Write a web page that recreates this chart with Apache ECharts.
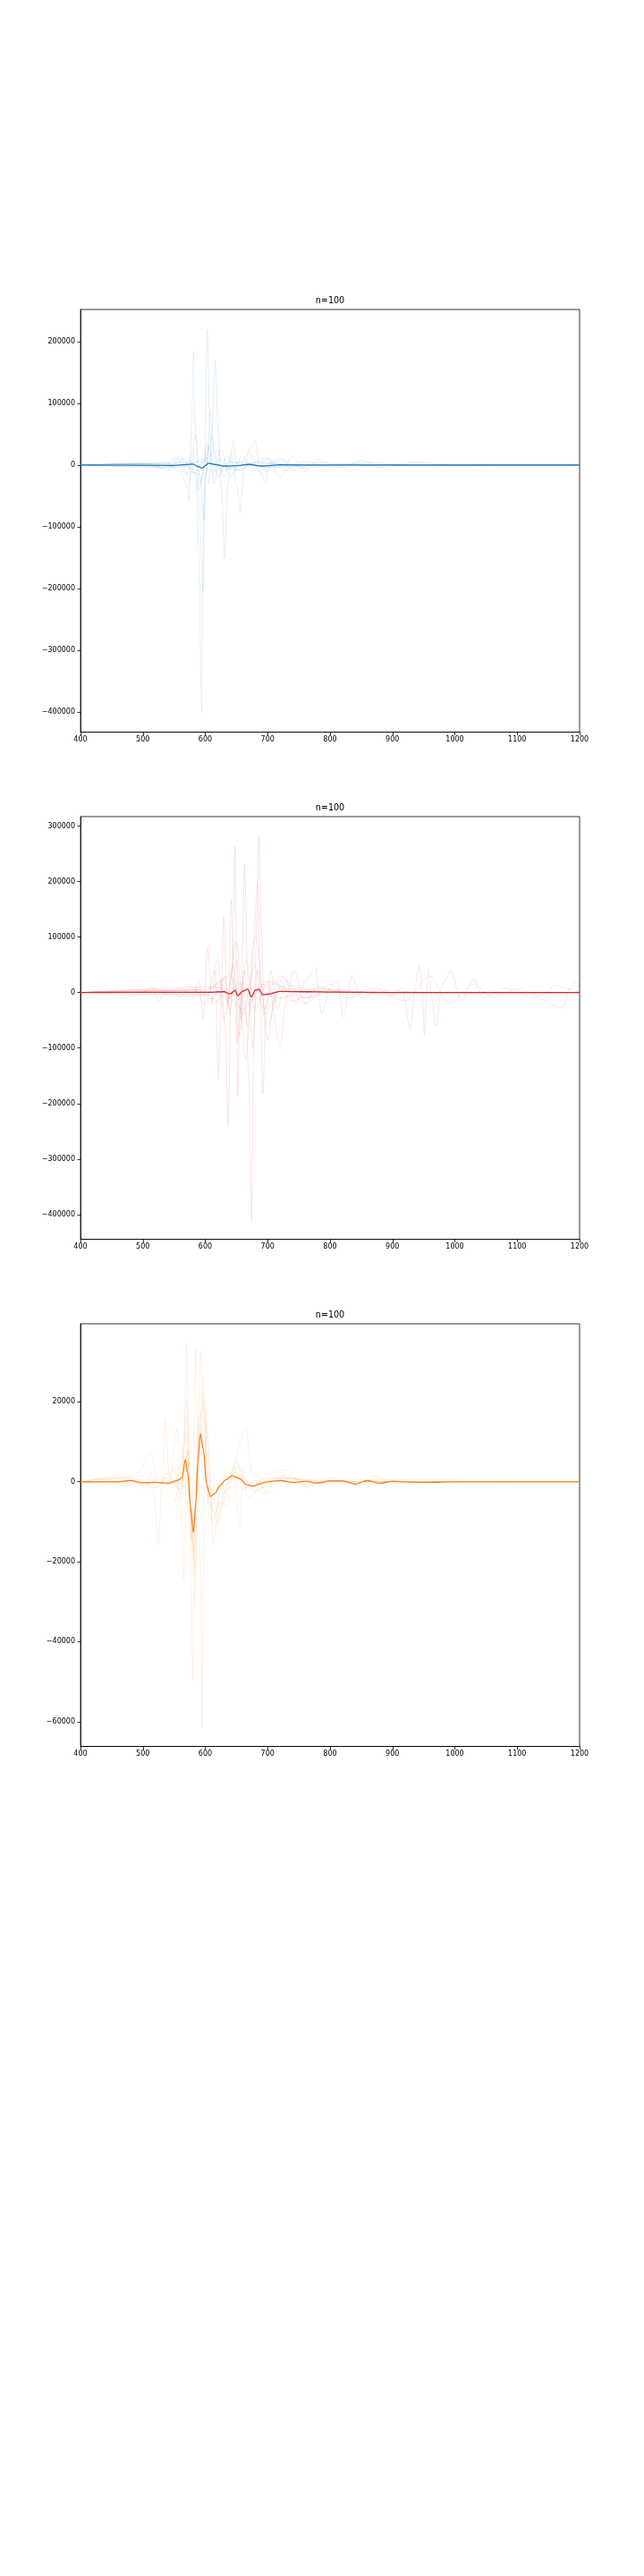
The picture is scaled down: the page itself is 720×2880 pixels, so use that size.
<!DOCTYPE html>
<html>
<head>
<meta charset="utf-8">
<script src="https://cdn.jsdelivr.net/npm/echarts@6/dist/echarts.min.js"></script>
<style>
html,body{margin:0;padding:0;background:#fff;}
#chart{width:720px;height:2880px;}
</style>
</head>
<body>
<div id="chart"></div>
<script>
var titleText = 'n=100';
var xTicks = [400, 500, 600, 700, 800, 900, 1000, 1100, 1200];
var blueTicks = [200000, 100000, 0, -100000, -200000, -300000, -400000];
var redTicks = [300000, 200000, 100000, 0, -100000, -200000, -300000, -400000];
var orangeTicks = [20000, 0, -20000, -40000, -60000];

// panel 1 (blue)
var blueMean = [[400,0],[550,-500],[580,1500],[590,-3000],[595,-5000],[600,-1000],[605,3000],[615,1000],[630,-1500],[650,-1000],[670,1000],[690,-1500],[720,500],[800,0],[1200,0]];
var blue1 = [[400,0],[520,2000],[560,-5000],[575,8000],[585,-20000],[590,-150000],[594,-400000],[598,-60000],[603,220000],[608,40000],[614,-30000],[622,10000],[640,-5000],[680,3000],[760,0],[1200,0]];
var blue2 = [[400,0],[540,3000],[560,-10000],[570,-30000],[574,-58000],[578,60000],[581,183000],[585,40000],[590,-60000],[596,-203000],[600,-20000],[606,30000],[615,-10000],[640,5000],[700,-3000],[800,0],[1200,0]];
var blue3 = [[400,0],[560,2000],[590,-10000],[600,20000],[606,-30000],[611,60000],[616,169000],[621,50000],[626,-40000],[631,-152000],[636,-30000],[645,39000],[652,-10000],[680,5000],[760,0],[1200,0]];
var blue4 = [[400,0],[560,-3000],[600,10000],[620,25000],[630,-20000],[642,20000],[650,-30000],[656,-76000],[662,-10000],[670,25000],[680,39000],[688,-10000],[695,-27000],[705,5000],[720,12000],[740,-8000],[780,4000],[850,0],[1200,0]];
var blue5 = [[400,0],[500,2000],[540,-8000],[560,15000],[575,-25000],[585,50000],[592,-30000],[600,10000],[610,45000],[620,-20000],[635,15000],[650,-10000],[670,20000],[690,-15000],[720,8000],[760,-5000],[820,3000],[900,0],[1200,0]];
var blue6 = [[400,0],[510,3000],[530,-5000],[555,12000],[570,-15000],[580,25000],[590,-40000],[597,-10000],[603,35000],[612,-15000],[625,25000],[640,-20000],[660,15000],[675,-10000],[700,10000],[730,-8000],[760,6000],[800,-3000],[850,4000],[950,0],[1200,0]];
var blue7 = [[400,0],[540,-4000],[565,10000],[580,-12000],[592,-15000],[598,-90000],[602,-10000],[608,90000],[614,20000],[625,-10000],[660,6000],[700,-4000],[800,0],[1200,0]];
var blue8 = [[400,0],[600,5000],[650,-8000],[700,12000],[720,-20000],[740,15000],[760,-10000],[780,8000],[820,-5000],[850,8000],[880,-4000],[940,5000],[1000,-2000],[1100,2000],[1200,0]];

// panel 2 (red)
var redMean = [[400,0],[600,500],[630,1500],[640,-2500],[648,4000],[652,-6000],[660,2500],[668,6000],[674,-8000],[680,4000],[686,6000],[692,-4000],[700,-3000],[720,2000],[760,1500],[800,1000],[900,0],[1200,0]];
var red1 = [[400,0],[600,3000],[640,-10000],[655,20000],[665,-40000],[670,-150000],[674,-411000],[678,-80000],[682,120000],[686,282000],[690,100000],[695,-40000],[705,-20000],[720,10000],[760,0],[1200,0]];
var red2 = [[400,0],[590,5000],[620,-15000],[632,30000],[640,-40000],[644,60000],[647.5,263000],[650,50000],[652,-188000],[656,-30000],[662,40000],[670,-20000],[690,15000],[720,-10000],[760,5000],[820,0],[1200,0]];
var red3 = [[400,0],[600,-5000],[625,20000],[632,-60000],[636.5,-242000],[641,-20000],[650,60000],[657,-50000],[663,231000],[668,30000],[676,-100000],[684,40000],[695,-30000],[710,20000],[740,-15000],[780,8000],[830,0],[1200,0]];
var red4 = [[400,0],[580,4000],[610,-12000],[630,25000],[637,-30000],[641.7,166600],[646,10000],[651,-90000],[660,20000],[668,-60000],[676,80000],[684,199000],[688,20000],[692,-183000],[698,-20000],[705,40000],[715,-30000],[730,20000],[760,-10000],[800,5000],[850,0],[1200,0]];
var red5 = [[400,0],[520,6000],[540,-4000],[560,8000],[580,-10000],[590,20000],[596.7,-48000],[604,83000],[611,-20000],[616,40000],[621,-156000],[626,10000],[629.6,137000],[635,-20000],[645,50000],[655,-80000],[665,60000],[680,-30000],[700,20000],[720,-97000],[730,-10000],[742,40000],[760,-20000],[780,10000],[820,0],[1200,0]];
var red6 = [[400,0],[600,5000],[640,30000],[660,-40000],[680,50000],[690,-20000],[700,-86000],[710,-20000],[725,30000],[745,-20000],[760,20000],[776,45000],[787,-38000],[800,10000],[812,20000],[821,-44000],[835,29000],[850,-10000],[880,5000],[950,0],[1200,0]];
var red7 = [[400,0],[620,10000],[660,-30000],[700,20000],[760,-10000],[820,5000],[900,-5000],[915,8000],[929,-65000],[936,10000],[943,49000],[948,0],[951,-76000],[955,0],[957,42000],[963,-10000],[969,-60000],[980,15000],[994,39000],[1010,-15000],[1031,24000],[1045,-10000],[1080,8000],[1120,-5000],[1173,-27000],[1185,5000],[1193,21000],[1200,10000]];
var red8 = [[400,0],[500,0],[515,10000],[525,-15000],[540,5000],[560,-8000],[580,12000],[600,-20000],[620,60000],[630,-50000],[650,90000],[665,-120000],[680,100000],[700,-60000],[720,30000],[760,-20000],[800,15000],[830,-10000],[870,8000],[920,-15000],[960,30000],[990,-20000],[1030,15000],[1060,-8000],[1100,6000],[1140,-6000],[1160,12000],[1200,0]];

// panel 3 (orange)
var orangeMean = [[400,0],[460,0],[480,300],[500,-300],[520,-200],[540,-400],[555,300],[563,1000],[568,5600],[572,2000],[576,-6000],[581,-12700],[585,-5000],[588,5000],[592,12000],[597,8000],[602,-500],[608,-3700],[615,-3000],[623,-1100],[633,500],[643,1500],[655,800],[667,-800],[677,-1100],[690,-400],[700,0],[720,300],[740,-200],[760,100],[780,-300],[800,200],[820,200],[840,-600],[860,300],[880,-400],[900,100],[950,-200],[1000,0],[1200,0]];
var orange1 = [[400,0],[480,1000],[520,-1500],[550,3000],[562,-4000],[566,10000],[570,34700],[574,5000],[577,-20000],[580,-49600],[584,-8000],[590,15000],[597,20000],[605,-5000],[615,-8000],[630,3000],[660,-2000],[700,1000],[800,0],[1200,0]];
var orange2 = [[400,0],[500,-1000],[540,2000],[565,-3000],[572,8000],[578,-15000],[584.6,33200],[589,0],[592,-20000],[595,-61500],[598,-5000],[602,15000],[610,-4000],[625,-6000],[650,3000],[680,-2000],[720,1000],[800,0],[1200,0]];
var orange3 = [[400,0],[500,1500],[530,-2000],[555,4000],[562,-10000],[566,-24600],[570,8000],[576,-4000],[582,-20000],[588,10000],[593,32100],[598,15000],[606,-8000],[616,-12000],[630,-3000],[650,4000],[680,-2500],[720,1500],[780,-500],[850,500],[1200,0]];
var orange4 = [[400,0],[480,1000],[505,-2000],[515,3000],[525,-15700],[530,-2000],[536,15800],[542,2000],[552,-5000],[560,4000],[570,12000],[580,-18000],[592,14000],[605,-4000],[620,-10000],[640,2000],[665,13800],[675,2000],[690,-3000],[720,1000],[800,0],[1200,0]];
var orange5 = [[400,0],[490,2000],[513,7400],[525,-1000],[545,3000],[554.5,13400],[562,-2000],[570,16000],[578,-10000],[584,-22000],[590,5000],[598,22000],[606,5000],[612.6,-16000],[622,-5000],[635,-6000],[646,4000],[654.8,-11200],[662,4000],[680,2000],[700,-3000],[730,2000],[760,-1000],[800,0],[1200,0]];
var orange6 = [[400,0],[500,-500],[540,1000],[560,-2000],[570,20000],[576,-5000],[583,-30000],[590,8000],[596,26000],[603,5000],[612,-10000],[625,-4000],[650,5000],[670,-4000],[700,2000],[730,3000],[760,-1500],[800,1000],[850,-1000],[870,1500],[900,0],[1200,0]];

var panels = [
  {color: '#1f77b4', mean: blueMean, runs: [blue1, blue2, blue3, blue4, blue5, blue6, blue7, blue8], min: -432500, max: 252000, ticks: blueTicks},
  {color: '#d62728', mean: redMean, runs: [red1, red2, red3, red4, red5, red6, red7, red8], min: -444500, max: 316900, ticks: redTicks},
  {color: '#ff7f0e', mean: orangeMean, runs: [orange1, orange2, orange3, orange4, orange5, orange6], min: -66200, max: 39500, ticks: orangeTicks}
];

var gridTops = [346, 913, 1480];
var font = 'DejaVu Sans';

// plain numbers, real minus sign, no thousands separator
function fmt(v) {
  return v < 0 ? '\u2212' + (-v) : '' + v;
}

var option = {
  animation: false,
  backgroundColor: '#fff',
  title: [],
  grid: [],
  xAxis: [],
  yAxis: [],
  series: []
};

for (var i = 0; i < panels.length; i++) {
  var p = panels[i];
  option.title.push({
    text: titleText,
    left: 369, top: gridTops[i] - 15, textAlign: 'center', padding: 0,
    textStyle: {fontFamily: font, fontSize: 9.6, fontWeight: 'normal', color: '#000'}
  });
  option.grid.push({
    left: 90, top: gridTops[i], width: 558, height: 472.5,
    show: true, borderColor: '#000', borderWidth: 0.8, backgroundColor: 'transparent'
  });
  option.xAxis.push({
    type: 'value', gridIndex: i, min: 400, max: 1200,
    splitLine: {show: false},
    axisLine: {show: true, onZero: false, lineStyle: {color: '#000', width: 0.8}},
    axisTick: {show: true, length: 3.5, customValues: xTicks, lineStyle: {color: '#000', width: 0.8}},
    axisLabel: {fontFamily: font, fontSize: 8, color: '#000', margin: 4, customValues: xTicks, formatter: fmt}
  });
  option.yAxis.push({
    type: 'value', gridIndex: i, min: p.min, max: p.max,
    splitLine: {show: false},
    axisLine: {show: true, onZero: false, lineStyle: {color: '#000', width: 0.8}},
    axisTick: {show: true, length: 3.5, customValues: p.ticks, lineStyle: {color: '#000', width: 0.8}},
    axisLabel: {fontFamily: font, fontSize: 8, color: '#000', margin: 6, customValues: p.ticks, formatter: fmt}
  });
  for (var j = 0; j < p.runs.length; j++) {
    option.series.push({
      type: 'line', xAxisIndex: i, yAxisIndex: i, data: p.runs[j],
      showSymbol: false, silent: true, smooth: 0.3, smoothMonotone: 'x',
      lineStyle: {color: p.color, width: 0.8, opacity: 0.14}, z: 2
    });
  }
  option.series.push({
    type: 'line', xAxisIndex: i, yAxisIndex: i, data: p.mean,
    showSymbol: false, silent: true, smooth: 0.3, smoothMonotone: 'x',
    lineStyle: {color: p.color, width: 1.3}, z: 3
  });
}

var chart = echarts.init(document.getElementById('chart'), null, {renderer: 'canvas'});
chart.setOption(option);
</script>
</body>
</html>
